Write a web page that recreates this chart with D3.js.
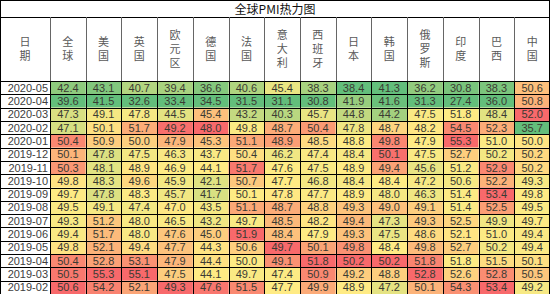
<!DOCTYPE html>
<html>
<head>
<meta charset="utf-8">
<script src="https://cdn.jsdelivr.net/npm/d3@7"></script>
<style>
  body { margin: 0; background: #fff; }
  svg text { font-family: "Liberation Sans", Arial, sans-serif; }
  .cjk { font-family: "Noto Sans CJK SC", sans-serif; }
  .vert { writing-mode: vertical-rl; text-orientation: upright; letter-spacing: 3px; }
</style>
</head>
<body>
<div id="chart"></div>
<script>
const title = "全球PMI热力图";
const countries = ["全球", "美国", "英国", "欧元区", "德国", "法国", "意大利", "西班牙", "日本", "韩国", "俄罗斯", "印度", "巴西", "中国"];
const months = ["2020-05", "2020-04", "2020-03", "2020-02", "2020-01", "2019-12", "2019-11", "2019-10",
  "2019-09", "2019-08", "2019-07", "2019-06", "2019-05", "2019-04", "2019-03", "2019-02"];
// one row per month, one value per country
const pmi = [
  [42.4, 43.1, 40.7, 39.4, 36.6, 40.6, 45.4, 38.3, 38.4, 41.3, 36.2, 30.8, 38.3, 50.6],
  [39.6, 41.5, 32.6, 33.4, 34.5, 31.5, 31.1, 30.8, 41.9, 41.6, 31.3, 27.4, 36.0, 50.8],
  [47.3, 49.1, 47.8, 44.5, 45.4, 43.2, 40.3, 45.7, 44.8, 44.2, 47.5, 51.8, 48.4, 52.0],
  [47.1, 50.1, 51.7, 49.2, 48.0, 49.8, 48.7, 50.4, 47.8, 48.7, 48.2, 54.5, 52.3, 35.7],
  [50.4, 50.9, 50.0, 47.9, 45.3, 51.1, 48.9, 48.5, 48.8, 49.8, 47.9, 55.3, 51.0, 50.0],
  [50.1, 47.8, 47.5, 46.3, 43.7, 50.4, 46.2, 47.4, 48.4, 50.1, 47.5, 52.7, 50.2, 50.2],
  [50.3, 48.1, 48.9, 46.9, 44.1, 51.7, 47.6, 47.5, 48.9, 49.4, 45.6, 51.2, 52.9, 50.2],
  [49.8, 48.3, 49.6, 45.9, 42.1, 50.7, 47.7, 46.8, 48.4, 48.4, 47.2, 50.6, 52.2, 49.3],
  [49.7, 47.8, 48.3, 45.7, 41.7, 50.1, 47.8, 47.7, 48.9, 48.0, 46.3, 51.4, 53.4, 49.8],
  [49.5, 49.1, 47.4, 47.0, 43.5, 51.1, 48.7, 48.8, 49.3, 49.0, 49.1, 51.4, 52.5, 49.5],
  [49.3, 51.2, 48.0, 46.5, 43.2, 49.7, 48.5, 48.2, 49.4, 47.3, 49.3, 52.5, 49.9, 49.7],
  [49.4, 51.7, 48.0, 47.6, 45.0, 51.9, 48.4, 47.9, 49.3, 47.5, 48.6, 52.1, 51.0, 49.4],
  [49.8, 52.1, 49.4, 47.7, 44.3, 50.6, 49.7, 50.1, 49.8, 48.4, 49.8, 52.7, 50.2, 49.4],
  [50.4, 52.8, 53.1, 47.9, 44.4, 50.0, 49.1, 51.8, 50.2, 50.2, 51.8, 51.8, 51.5, 50.1],
  [50.5, 55.3, 55.1, 47.5, 44.1, 49.7, 47.4, 50.9, 49.2, 48.8, 52.8, 52.6, 52.8, 50.5],
  [50.6, 54.2, 52.1, 49.3, 47.6, 51.5, 47.7, 49.9, 48.9, 47.2, 50.1, 54.3, 53.4, 49.2]
];

const width = 550, height = 294;
const titleH = 17, headerBottom = 81, dateW = 50;

const svg = d3.select("#chart").append("svg")
  .attr("width", width).attr("height", height);

const x = d3.scaleBand().domain(countries).range([dateW, width]);
const y = d3.scaleBand().domain(months).range([headerBottom, height]);

// excel-style 3 colour scale, per column (min green, median yellow, max red)
const colour = countries.map((c, j) => {
  const col = pmi.map(r => r[j]);
  return d3.scaleLinear()
    .domain([d3.min(col), d3.median(col), d3.max(col)])
    .range(["#63BE7B", "#FFEB84", "#F8696B"]);
});

const cells = [];
pmi.forEach((row, i) => row.forEach((v, j) => cells.push({ m: months[i], c: countries[j], v, j })));

svg.append("g").selectAll("rect")
  .data(cells)
  .enter().append("rect")
    .attr("x", d => x(d.c))
    .attr("y", d => y(d.m))
    .attr("width", x.bandwidth())
    .attr("height", y.bandwidth())
    .attr("fill", d => colour[d.j](d.v));

svg.append("g").selectAll("text")
  .data(cells)
  .enter().append("text")
    .attr("x", d => x(d.c) + x.bandwidth() / 2)
    .attr("y", d => y(d.m) + y.bandwidth() / 2 + 4)
    .attr("text-anchor", "middle")
    .attr("font-size", 11)
    .attr("fill", "#3b3b33")
    .text(d => d.v.toFixed(1));

// dates
svg.append("g").selectAll("text")
  .data(months)
  .enter().append("text")
    .attr("x", dateW - 2)
    .attr("y", d => y(d) + y.bandwidth() / 2 + 4)
    .attr("text-anchor", "end")
    .attr("font-size", 11)
    .attr("fill", "#404040")
    .text(d => d);

// header: vertical chinese labels
const headers = [{ label: "日期", cx: dateW / 2 }].concat(countries.map(c => ({ label: c, cx: x(c) + x.bandwidth() / 2 })));
const headMid = (titleH + headerBottom) / 2 + 1;
svg.append("g").selectAll("text")
  .data(headers)
  .enter().append("text")
    .attr("class", "cjk vert")
    .attr("x", h => h.cx)
    .attr("y", headMid)
    .attr("text-anchor", "middle")
    .attr("font-size", 11)
    .attr("fill", "#595959")
    .text(h => h.label);

svg.append("text")
  .attr("class", "cjk")
  .attr("x", width / 2)
  .attr("y", 14)
  .attr("text-anchor", "middle")
  .attr("font-size", 12)
  .attr("fill", "#111")
  .text(title);

// grid lines
const grid = svg.append("g").attr("shape-rendering", "crispEdges");
const hLines = [0.5, titleH + 0.5].concat(months.map(m => y(m) + 0.5));
grid.selectAll(".h").data(hLines).enter().append("line")
  .attr("x1", 0).attr("x2", width)
  .attr("y1", d => d).attr("y2", d => d)
  .attr("stroke", "#000");
const vPos = [dateW].concat(countries.slice(1).map(c => x(c)));
grid.selectAll(".vh").data(vPos).enter().append("line")
  .attr("x1", d => Math.round(d) + 0.5).attr("x2", d => Math.round(d) + 0.5)
  .attr("y1", titleH).attr("y2", headerBottom)
  .attr("stroke", "#666");
grid.selectAll(".vd").data(vPos).enter().append("line")
  .attr("x1", d => Math.round(d) + 0.5).attr("x2", d => Math.round(d) + 0.5)
  .attr("y1", headerBottom).attr("y2", height)
  .attr("stroke", "#000");
grid.selectAll(".edge").data([0.5, width - 0.5]).enter().append("line")
  .attr("x1", d => d).attr("x2", d => d)
  .attr("y1", 0).attr("y2", height)
  .attr("stroke", "#000");
</script>
</body>
</html>
